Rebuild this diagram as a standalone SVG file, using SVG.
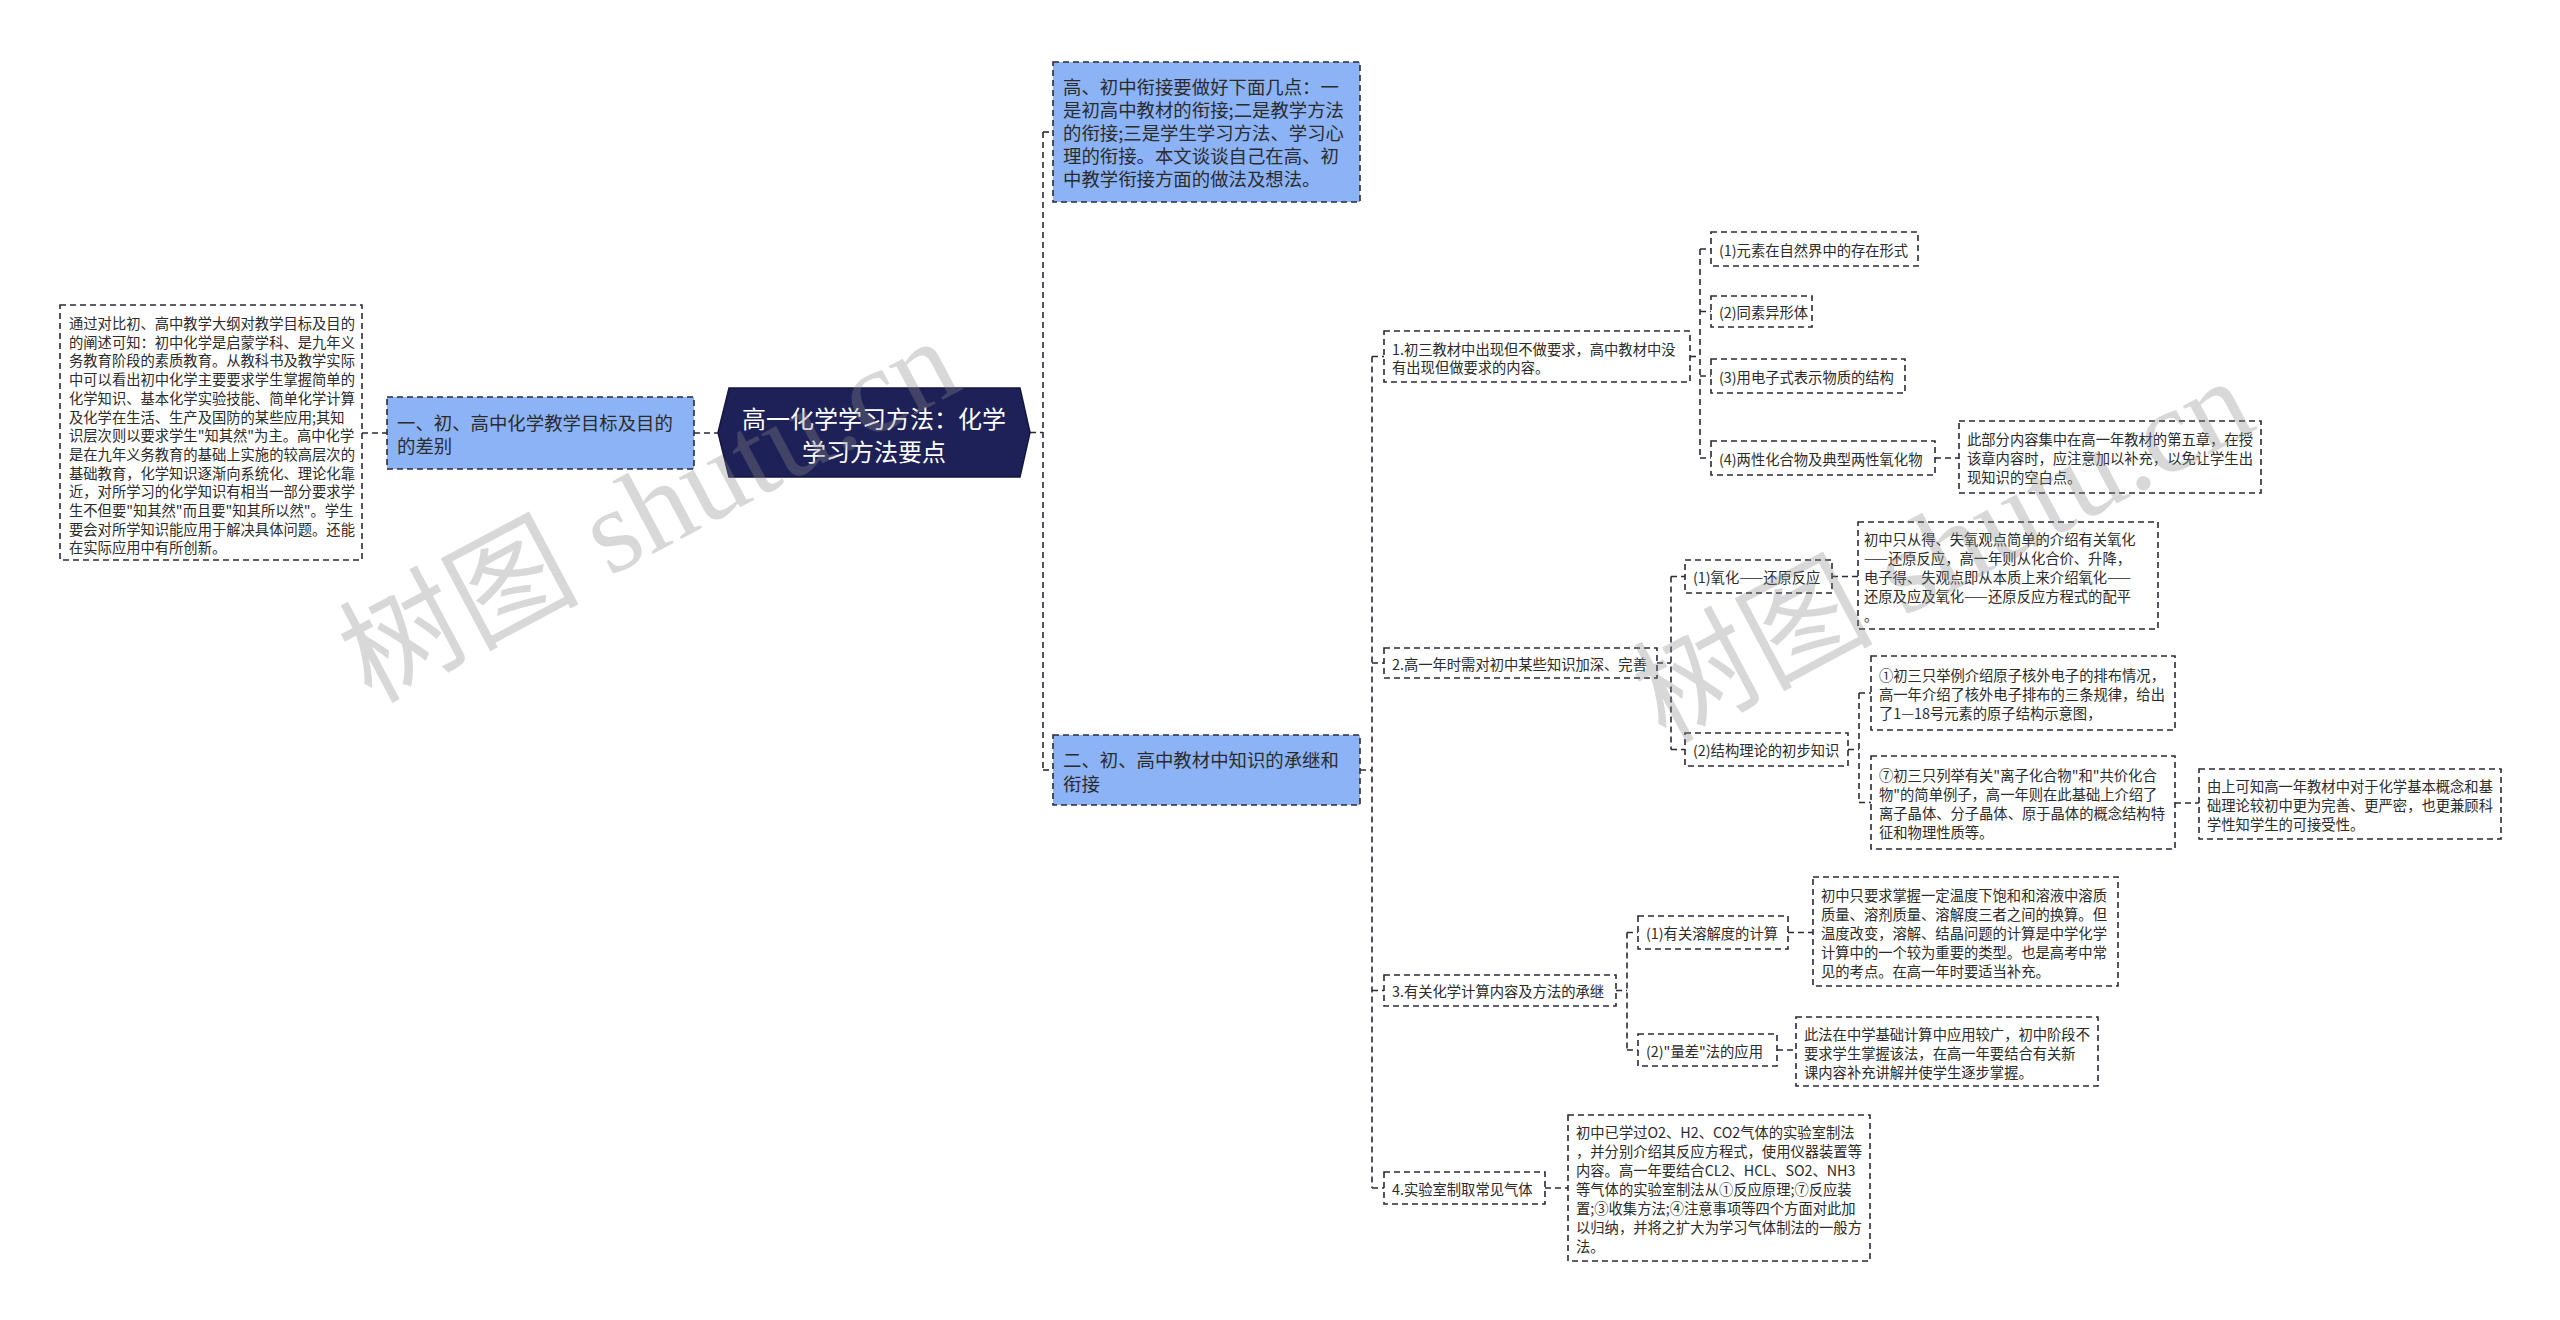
<svg xmlns="http://www.w3.org/2000/svg" width="2560" height="1320" viewBox="0 0 2560 1320">
<style>
text{font-family:"Noto Sans CJK SC","Noto Sans",sans-serif;fill:#2b2b2b;dominant-baseline:central}
.s{font-size:14.3px}
.m{font-size:18.4px}
.r{font-size:24px;fill:#ffffff;text-anchor:middle}
.box{fill:#ffffff;stroke:#2a2a38;stroke-width:1.6;stroke-dasharray:6 4}
.blue{fill:#8db3f7;stroke:#2a2a38;stroke-width:1.6;stroke-dasharray:6 4}
.c path{fill:none;stroke:#2a2a38;stroke-width:1.6;stroke-dasharray:6 4}
.wm{font-family:"Liberation Serif","Noto Sans CJK SC",serif;font-size:120px;fill:#8a8a8a;fill-opacity:0.33;text-anchor:middle}
</style>
<rect width="2560" height="1320" fill="#ffffff"/>
<g class="c" id="connectors">
<path d="M362,433 H387"/>
<path d="M694,433 H718"/>
<path d="M1030,432.5 H1043"/>
<path d="M1043,132 V770"/>
<path d="M1043,132 H1053"/>
<path d="M1043,770 H1053"/>
<path d="M1360,770 H1372"/>
<path d="M1372,356.5 V1188"/>
<path d="M1372,356.5 H1384"/>
<path d="M1372,663 H1384"/>
<path d="M1372,990.5 H1384"/>
<path d="M1372,1188 H1384"/>
<path d="M1690,356.5 H1700"/>
<path d="M1700,249 V458"/>
<path d="M1700,249 H1711"/>
<path d="M1700,311.5 H1711"/>
<path d="M1700,376 H1711"/>
<path d="M1700,458 H1711"/>
<path d="M1935,458 H1959"/>
<path d="M1657,663 H1671"/>
<path d="M1671,576.5 V749.5"/>
<path d="M1671,576.5 H1685"/>
<path d="M1671,749.5 H1685"/>
<path d="M1832,576.5 H1858"/>
<path d="M1848,749.5 H1859"/>
<path d="M1859,693 V802.5"/>
<path d="M1859,693 H1871"/>
<path d="M1859,802.5 H1871"/>
<path d="M2175,803 H2199"/>
<path d="M1616,990.5 H1627"/>
<path d="M1627,932.5 V1050"/>
<path d="M1627,932.5 H1638"/>
<path d="M1627,1050 H1638"/>
<path d="M1788,932.5 H1813"/>
<path d="M1777,1050 H1796"/>
<path d="M1545,1188 H1568"/>
</g>
<g id="root">
<polygon points="729,388 1020,388 1030,432.5 1020,477 729,477 718,432.5" fill="#1e2157" stroke="#14163d" stroke-width="1.5"/>
<text class="r"><tspan x="874" y="417">高一化学学习方法：化学</tspan><tspan x="874" y="450">学习方法要点</tspan></text>
</g>
<g id="n-goal-text">
<rect class="box" x="60" y="305" width="302" height="255"/>
<text class="s">
<tspan x="69" y="322">通过对比初、高中教学大纲对教学目标及目的</tspan>
<tspan x="69" y="340.7">的阐述可知：初中化学是启蒙学科、是九年义</tspan>
<tspan x="69" y="359.4">务教育阶段的素质教育。从教科书及教学实际</tspan>
<tspan x="69" y="378.1">中可以看出初中化学主要要求学生掌握简单的</tspan>
<tspan x="69" y="396.8">化学知识、基本化学实验技能、简单化学计算</tspan>
<tspan x="69" y="415.5">及化学在生活、生产及国防的某些应用;其知</tspan>
<tspan x="69" y="434.2">识层次则以要求学生"知其然"为主。高中化学</tspan>
<tspan x="69" y="452.9">是在九年义务教育的基础上实施的较高层次的</tspan>
<tspan x="69" y="471.6">基础教育，化学知识逐渐向系统化、理论化靠</tspan>
<tspan x="69" y="490.3">近，对所学习的化学知识有相当一部分要求学</tspan>
<tspan x="69" y="509">生不但要"知其然"而且要"知其所以然"。学生</tspan>
<tspan x="69" y="527.7">要会对所学知识能应用于解决具体问题。还能</tspan>
<tspan x="69" y="546.4">在实际应用中有所创新。</tspan>
</text>
</g>
<g id="n-branch1">
<rect class="blue" x="387" y="397" width="307" height="72"/>
<text class="m"><tspan x="397" y="421.5">一、初、高中化学教学目标及目的</tspan><tspan x="397" y="445">的差别</tspan></text>
</g>
<g id="n-intro">
<rect class="blue" x="1053" y="62" width="307" height="140"/>
<text class="m">
<tspan x="1063" y="86">高、初中衔接要做好下面几点：一</tspan>
<tspan x="1063" y="109">是初高中教材的衔接;二是教学方法</tspan>
<tspan x="1063" y="132">的衔接;三是学生学习方法、学习心</tspan>
<tspan x="1063" y="155">理的衔接。本文谈谈自己在高、初</tspan>
<tspan x="1063" y="178">中教学衔接方面的做法及想法。</tspan>
</text>
</g>
<g id="n-branch2">
<rect class="blue" x="1053" y="735" width="307" height="70"/>
<text class="m"><tspan x="1063" y="759">二、初、高中教材中知识的承继和</tspan><tspan x="1063" y="783">衔接</tspan></text>
</g>
<g id="n-item1">
<rect class="box" x="1384" y="331" width="306" height="51"/>
<text class="s"><tspan x="1392" y="347.5">1.初三教材中出现但不做要求，高中教材中没</tspan><tspan x="1392" y="366">有出现但做要求的内容。</tspan></text>
</g>
<g id="n-sub1">
<rect class="box" x="1711" y="232" width="207" height="34"/>
<text class="s" x="1719" y="249">(1)元素在自然界中的存在形式</text>
</g>
<g id="n-sub2">
<rect class="box" x="1711" y="296" width="101" height="31"/>
<text class="s" x="1719" y="311.5">(2)同素异形体</text>
</g>
<g id="n-sub3">
<rect class="box" x="1711" y="359" width="194" height="34"/>
<text class="s" x="1719" y="376">(3)用电子式表示物质的结构</text>
</g>
<g id="n-sub4">
<rect class="box" x="1711" y="441" width="224" height="34"/>
<text class="s" x="1719" y="458">(4)两性化合物及典型两性氧化物</text>
</g>
<g id="n-sub4-note">
<rect class="box" x="1959" y="421" width="302" height="72"/>
<text class="s"><tspan x="1967" y="438">此部分内容集中在高一年教材的第五章，在授</tspan><tspan x="1967" y="457">该章内容时，应注意加以补充，以免让学生出</tspan><tspan x="1967" y="476">现知识的空白点。</tspan></text>
</g>
<g id="n-item2">
<rect class="box" x="1384" y="648" width="273" height="30"/>
<text class="s" x="1392" y="663">2.高一年时需对初中某些知识加深、完善</text>
</g>
<g id="n-ox">
<rect class="box" x="1685" y="560" width="147" height="33"/>
<text class="s" x="1693" y="576.5">(1)氧化——还原反应</text>
</g>
<g id="n-ox-note">
<rect class="box" x="1858" y="522" width="300" height="107"/>
<text class="s">
<tspan x="1864" y="537.5">初中只从得、失氧观点简单的介绍有关氧化</tspan>
<tspan x="1864" y="556.5">——还原反应，高一年则从化合价、升降，</tspan>
<tspan x="1864" y="575.5">电子得、失观点即从本质上来介绍氧化——</tspan>
<tspan x="1864" y="594.5">还原及应及氧化——还原反应方程式的配平</tspan>
<tspan x="1864" y="613.5">。</tspan>
</text>
</g>
<g id="n-struct">
<rect class="box" x="1685" y="733" width="163" height="33"/>
<text class="s" x="1693" y="749.5">(2)结构理论的初步知识</text>
</g>
<g id="n-struct-note1">
<rect class="box" x="1871" y="656" width="304" height="74"/>
<text class="s"><tspan x="1879" y="674">①初三只举例介绍原子核外电子的排布情况，</tspan><tspan x="1879" y="693">高一年介绍了核外电子排布的三条规律，给出</tspan><tspan x="1879" y="712">了1—18号元素的原子结构示意图，</tspan></text>
</g>
<g id="n-struct-note2">
<rect class="box" x="1871" y="756" width="304" height="93"/>
<text class="s"><tspan x="1879" y="774">⑦初三只列举有关"离子化合物"和"共价化合</tspan><tspan x="1879" y="793">物"的简单例子，高一年则在此基础上介绍了</tspan><tspan x="1879" y="812">离子晶体、分子晶体、原于晶体的概念结构特</tspan><tspan x="1879" y="831">征和物理性质等。</tspan></text>
</g>
<g id="n-struct-note3">
<rect class="box" x="2199" y="769" width="302" height="70"/>
<text class="s"><tspan x="2207" y="785">由上可知高一年教材中对于化学基本概念和基</tspan><tspan x="2207" y="804">础理论较初中更为完善、更严密，也更兼顾科</tspan><tspan x="2207" y="823">学性知学生的可接受性。</tspan></text>
</g>
<g id="n-item3">
<rect class="box" x="1384" y="975" width="232" height="31"/>
<text class="s" x="1392" y="990.5">3.有关化学计算内容及方法的承继</text>
</g>
<g id="n-sol">
<rect class="box" x="1638" y="916" width="150" height="33"/>
<text class="s" x="1646" y="932.5">(1)有关溶解度的计算</text>
</g>
<g id="n-sol-note">
<rect class="box" x="1813" y="877" width="305" height="109"/>
<text class="s">
<tspan x="1821" y="893.5">初中只要求掌握一定温度下饱和和溶液中溶质</tspan>
<tspan x="1821" y="912.5">质量、溶剂质量、溶解度三者之间的换算。但</tspan>
<tspan x="1821" y="931.5">温度改变，溶解、结晶问题的计算是中学化学</tspan>
<tspan x="1821" y="950.5">计算中的一个较为重要的类型。也是高考中常</tspan>
<tspan x="1821" y="969.5">见的考点。在高一年时要适当补充。</tspan>
</text>
</g>
<g id="n-qd">
<rect class="box" x="1638" y="1034" width="139" height="32"/>
<text class="s" x="1646" y="1050">(2)"量差"法的应用</text>
</g>
<g id="n-qd-note">
<rect class="box" x="1796" y="1017" width="302" height="69"/>
<text class="s"><tspan x="1804" y="1032.5">此法在中学基础计算中应用较广，初中阶段不</tspan><tspan x="1804" y="1051.5">要求学生掌握该法，在高一年要结合有关新</tspan><tspan x="1804" y="1070.5">课内容补充讲解并使学生逐步掌握。</tspan></text>
</g>
<g id="n-item4">
<rect class="box" x="1384" y="1172" width="161" height="32"/>
<text class="s" x="1392" y="1188">4.实验室制取常见气体</text>
</g>
<g id="n-gas-note">
<rect class="box" x="1568" y="1115" width="302" height="146"/>
<text class="s">
<tspan x="1576" y="1131">初中已学过O2、H2、CO2气体的实验室制法</tspan>
<tspan x="1576" y="1150">，并分别介绍其反应方程式，使用仪器装置等</tspan>
<tspan x="1576" y="1169">内容。高一年要结合CL2、HCL、SO2、NH3</tspan>
<tspan x="1576" y="1188">等气体的实验室制法从①反应原理;⑦反应装</tspan>
<tspan x="1576" y="1207">置;③收集方法;④注意事项等四个方面对此加</tspan>
<tspan x="1576" y="1226">以归纳，并将之扩大为学习气体制法的一般方</tspan>
<tspan x="1576" y="1245">法。</tspan>
</text>
</g>
<g id="watermarks">
<text class="wm" transform="translate(649,510) rotate(-28)" x="0" y="0">树图 shutu.cn</text>
<text class="wm" transform="translate(1943,550) rotate(-28)" x="0" y="0">树图 shutu.cn</text>
</g>
</svg>
